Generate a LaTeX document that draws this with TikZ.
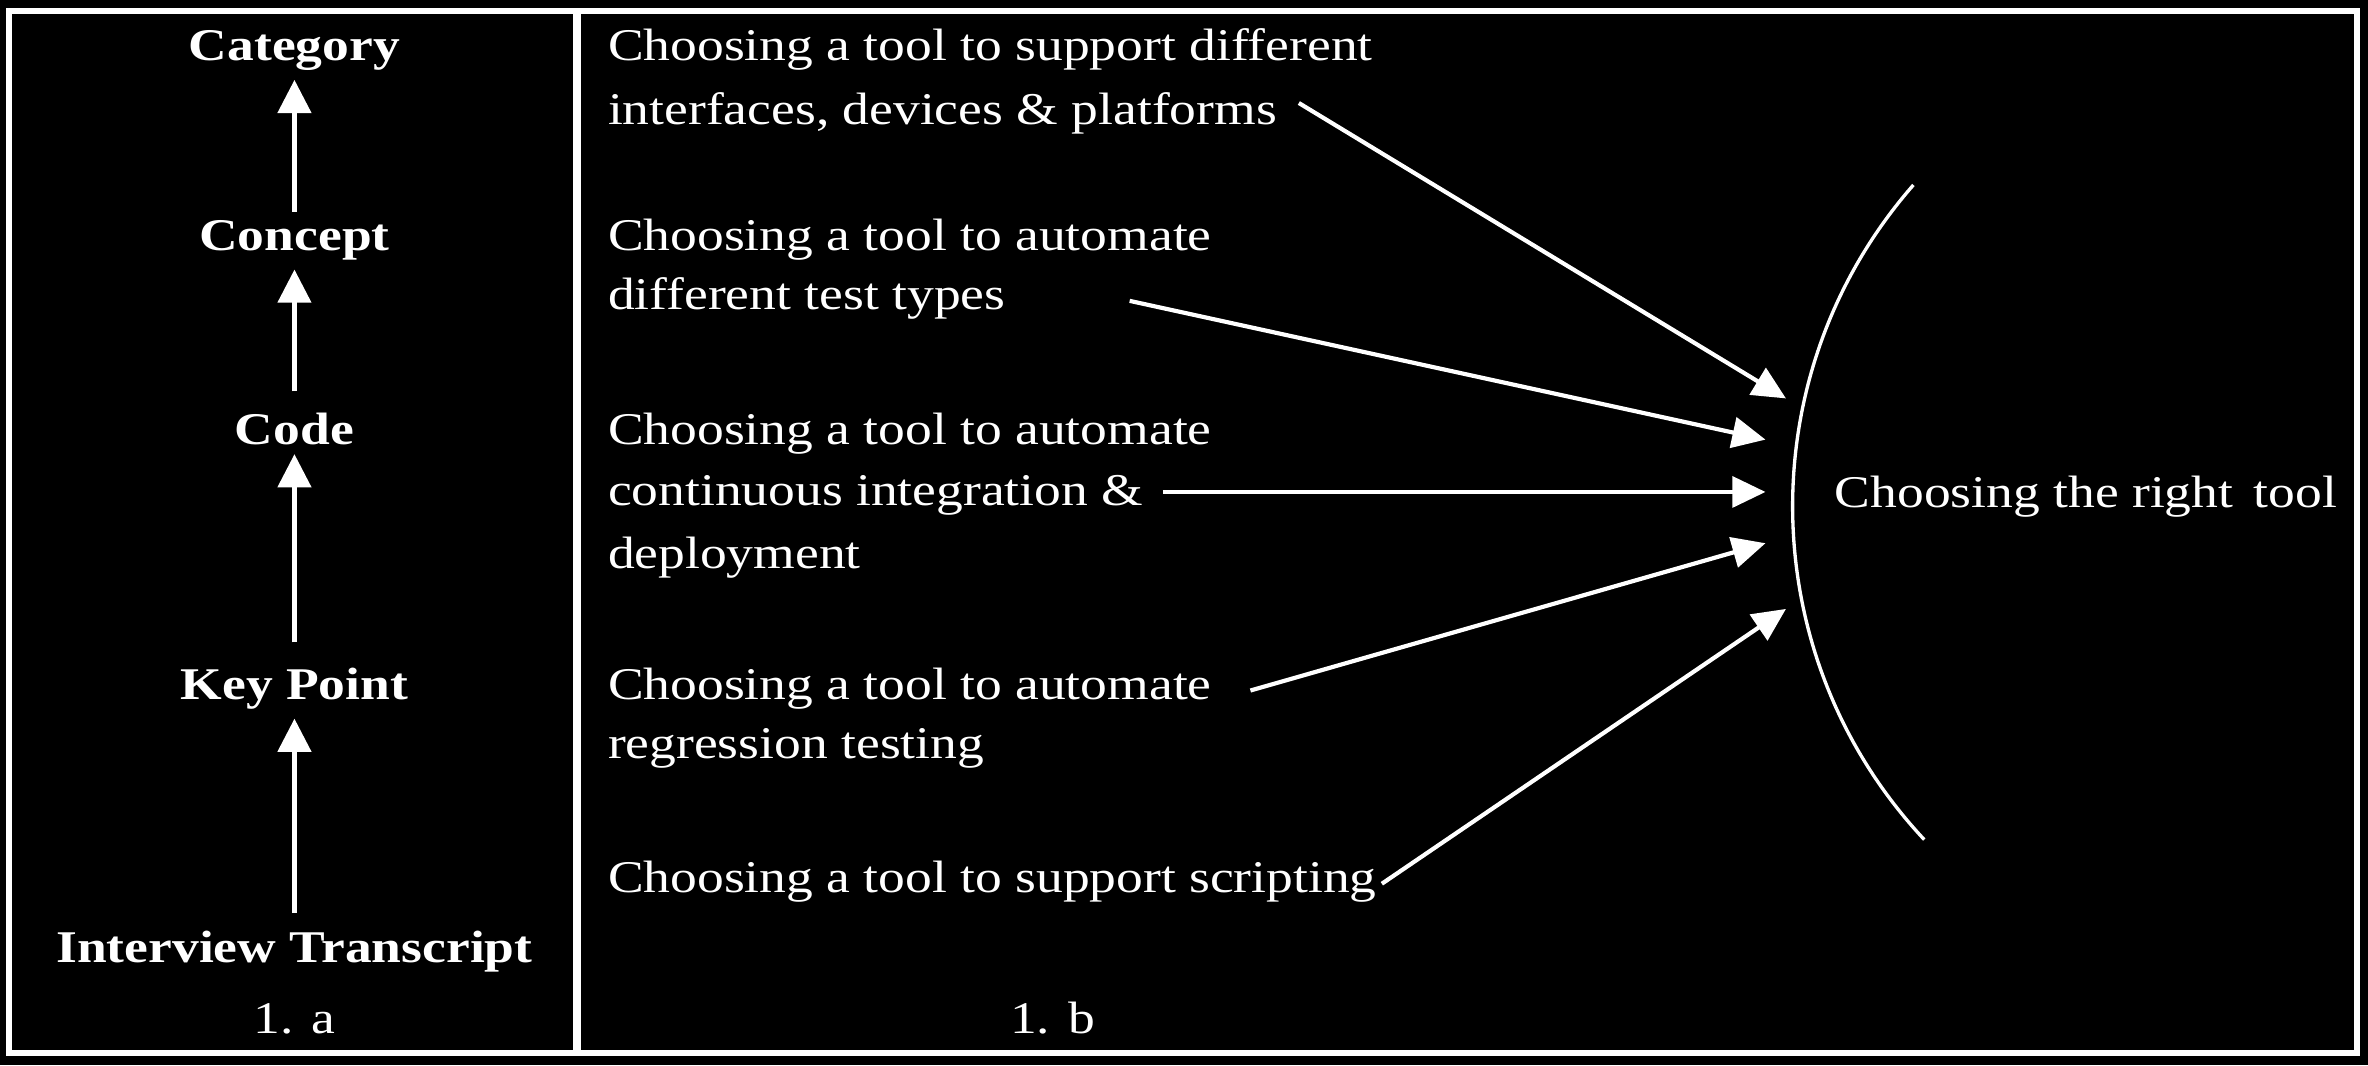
\documentclass[tikz,border=0pt]{standalone}
\usepackage{fontspec}
\setmainfont{Liberation Serif}[FakeStretch=1.18]
\usetikzlibrary{arrows.meta}

\begin{document}
\begin{tikzpicture}[every node/.style={text=white, inner sep=2pt, font=\fontsize{10.9}{13}\selectfont},
  lbl/.style={anchor=base, font=\fontsize{10.9}{13}\selectfont\bfseries},
  txt/.style={anchor=base west},
  up/.style={draw=white, line width=1pt, -{Triangle[length=2.8mm, width=2.8mm]}},
  feed/.style={draw=white, line width=1pt, -{Triangle[length=2.8mm, width=2.6mm]}}]
  \fill[black] (0cm, 0cm) rectangle (20cm, 8.995cm);
  \draw[white, line width=1.45pt] (0.08cm, 0.1cm) rectangle (19.907cm, 8.902cm);
  \draw[white, line width=1.9pt] (4.873cm, 0.1cm) -- (4.873cm, 8.902cm);

  % 1. a
  \node (category) [lbl] at (2.487cm, 8.482cm) {Category};
  \node (concept) [lbl] at (2.487cm, 6.877cm) {Concept};
  \node (code) [lbl] at (2.487cm, 5.24cm) {Code};
  \node (keypoint) [lbl] at (2.487cm, 3.085cm) {Key Point};
  \node (transcript) [lbl] at (2.487cm, 0.87cm) {Interview Transcript};
  \node (parta) [anchor=base] at (2.487cm, 0.27cm) {1. a};
  \draw[up] (concept) -- (category);
  \draw[up, shorten <=3pt] (code) -- (concept);
  \draw[up, shorten <=4pt] (keypoint) -- (code);
  \draw[up, shorten <=2pt] (transcript) -- (keypoint);

  % 1. b
  \node (t1a) [txt] at (5.058cm, 8.482cm) {Choosing a tool to support different};
  \node (t1b) [txt] at (5.058cm, 7.946cm) {interfaces, devices \& platforms};
  \node (t2a) [txt] at (5.058cm, 6.880cm) {Choosing a tool to automate};
  \node (t2b) [txt] at (5.058cm, 6.378cm) {different test types};
  \node (t3a) [txt] at (5.058cm, 5.24cm) {Choosing a tool to automate};
  \node (t3b) [txt] at (5.058cm, 4.726cm) {continuous integration \&};
  \node (t3c) [txt] at (5.058cm, 4.191cm) {deployment};
  \node (t4a) [txt] at (5.058cm, 3.087cm) {Choosing a tool to automate};
  \node (t4b) [txt] at (5.058cm, 2.589cm) {regression testing};
  \node (t5) [txt] at (5.058cm, 1.454cm) {Choosing a tool to support scripting};
  \node (goal) [txt] at (15.42cm, 4.71cm) {Choosing the right\hspace{0.45em}tool};
  \node (partb) [anchor=base] at (8.89cm, 0.27cm) {1. b};

  \draw[white, line width=0.8pt] (19.26cm, 4.719cm) ++(138.8:4.12cm) arc[start angle=138.8, end angle=223.1, radius=4.12cm];

  \coordinate (s1) at (10.97cm, 8.125cm);
  \coordinate (s2) at (9.541cm, 6.454cm);
  \coordinate (s3) at (9.821cm, 4.84cm);
  \coordinate (s4) at (10.561cm, 3.163cm);
  \coordinate (s5) at (11.671cm, 1.531cm);
  \coordinate (e1) at (15.084cm, 5.630cm);
  \coordinate (e2) at (14.911cm, 5.282cm);
  \coordinate (e3) at (14.911cm, 4.84cm);
  \coordinate (e4) at (14.911cm, 4.407cm);
  \coordinate (e5) at (15.084cm, 3.852cm);
  \draw[feed] (s1) -- (e1);
  \draw[feed] (s2) -- (e2);
  \draw[feed] (s3) -- (e3);
  \draw[feed] (s4) -- (e4);
  \draw[feed] (s5) -- (e5);
\end{tikzpicture}
\end{document}
